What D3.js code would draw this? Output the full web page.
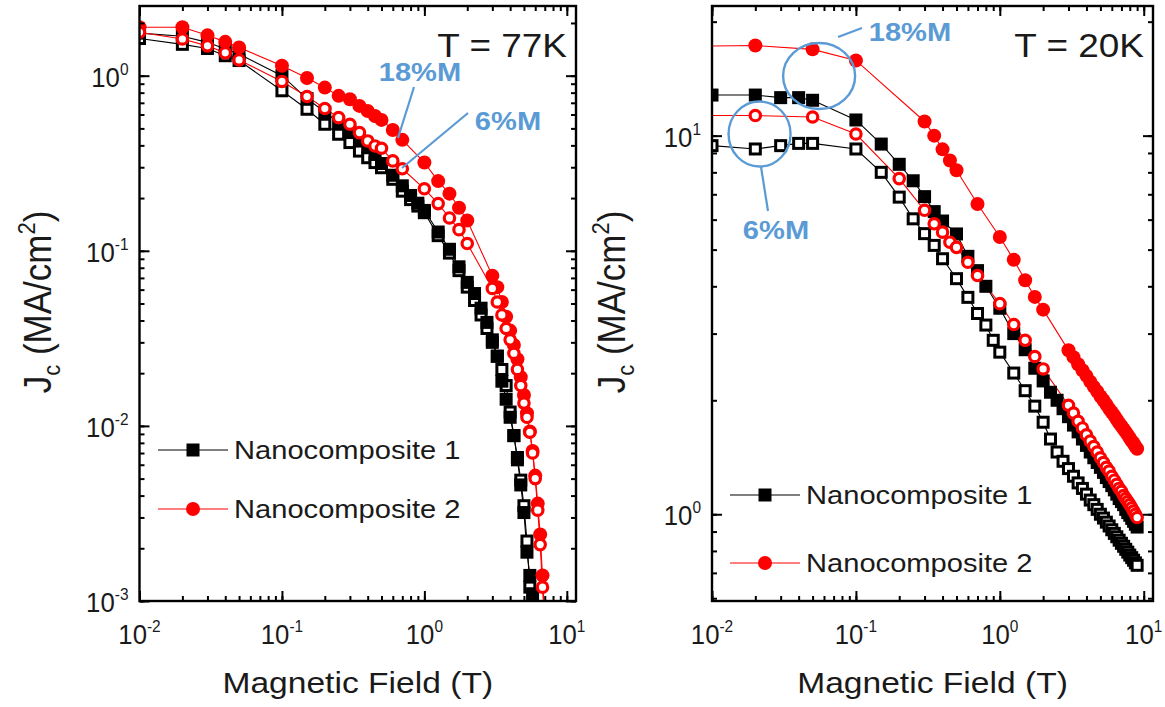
<!DOCTYPE html>
<html><head><meta charset="utf-8">
<script src="https://cdn.jsdelivr.net/npm/d3@7"></script>
<style>body{margin:0;background:#fff}text{font-family:"Liberation Sans",Arial,sans-serif;fill:#1a1a1a}</style>
</head><body><svg id="c" width="1165" height="707"></svg>
<script>
// ---------- tick labels ----------
const xTickExps = [-2, -1, 0, 1];
const yTickExpsLeft = [-3, -2, -1, 0];
const yTickExpsRight = [0, 1];
const legendLabels = ["Nanocomposite 1", "Nanocomposite 2"];

// ---------- T = 77K panel ----------
const L_N1_18_x = [0.01,0.02,0.03,0.04,0.05,0.1,0.15,0.2,0.25,0.3,0.35,0.4,0.45,0.5,0.6,0.7,0.8,0.9,1.0,1.25,1.5,1.75,2.0,2.25,2.5,2.75,3.0,3.25,3.5,3.75,4.0,4.25,4.5,4.75,5.0,5.25,5.5,5.75,6.0];
const L_N1_18_y = [1.75,1.68,1.55,1.42,1.33,1.0,0.74,0.62,0.54,0.48,0.43,0.39,0.355,0.315,0.27,0.235,0.207,0.187,0.17,0.128,0.102,0.081,0.066,0.057,0.047,0.039,0.031,0.025,0.018,0.0142,0.0112,0.0088,0.0064,0.0046,0.0032,0.0019,0.0014,0.0011,0.0007];
const L_N1_6_x = [0.01,0.02,0.03,0.04,0.05,0.1,0.15,0.2,0.25,0.3,0.35,0.4,0.45,0.5,0.6,0.7,0.8,0.9,1.0,1.25,1.5,1.75,2.0,2.25,2.5,2.75,3.0,3.25,3.5,3.75,4.0,4.25,4.5,4.75,5.0,5.25,5.5,5.75];
const L_N1_6_y = [1.63,1.51,1.43,1.30,1.22,0.82,0.643,0.528,0.463,0.415,0.371,0.34,0.319,0.298,0.256,0.219,0.196,0.18,0.165,0.122,0.097,0.077,0.062,0.052,0.043,0.036,0.030,0.025,0.021,0.017,0.012,0.0088,0.0066,0.0049,0.0035,0.0022,0.0012,0.0008];
const L_N2_18_x = [0.01,0.02,0.03,0.04,0.05,0.1,0.15,0.2,0.25,0.3,0.35,0.4,0.45,0.5,0.6,0.7,1.0,1.25,1.5,1.75,2.0,3.0,3.25,3.5,3.75,4.0,4.25,4.5,4.75,5.0,5.25,5.5,5.75,6.0,6.25,6.5,6.75,7.0];
const L_N2_18_y = [1.89,1.89,1.70,1.56,1.45,1.14,0.97,0.855,0.767,0.734,0.672,0.629,0.589,0.559,0.49,0.43,0.319,0.25,0.212,0.176,0.149,0.072,0.062,0.051,0.042,0.035,0.029,0.024,0.019,0.015,0.0118,0.0093,0.0072,0.0052,0.0036,0.0024,0.0014,0.0008];
const L_N2_6_x = [0.01,0.02,0.03,0.04,0.05,0.1,0.15,0.2,0.25,0.3,0.35,0.4,0.45,0.5,0.6,0.7,1.0,1.25,1.5,1.75,2.0,3.0,3.25,3.5,3.75,4.0,4.25,4.5,4.75,5.0,5.25,5.5,5.75,6.0,6.25,6.5,6.75,7.0];
const L_N2_6_y = [1.77,1.62,1.48,1.35,1.23,0.927,0.76,0.649,0.576,0.528,0.473,0.424,0.397,0.385,0.326,0.294,0.226,0.186,0.154,0.132,0.11,0.061,0.051,0.043,0.036,0.031,0.026,0.021,0.017,0.0135,0.0112,0.0092,0.0070,0.0050,0.0033,0.0021,0.0012,0.0007];

// ---------- T = 20K panel ----------
const R_N1_18_x = [0.01,0.02,0.03,0.04,0.05,0.1,0.15,0.2,0.25,0.3,0.35,0.4,0.5,0.6,0.7,0.8,1.0,1.25,1.5,1.75,2.0,2.25,2.5,2.75,3.0,3.25,3.5,3.75,4.0,4.25,4.5,4.75,5.0,5.25,5.5,5.75,6.0,6.25,6.5,6.75,7.0,7.25,7.5,7.75,8.0,8.25,8.5,8.75,9.0];
const R_N1_18_y = [12.8,12.8,12.6,12.6,12.4,11.0,9.5,8.4,7.6,6.9,6.3,5.95,5.5,4.8,4.4,4.0,3.5,3.0,2.72,2.43,2.25,2.10,2.00,1.90,1.81,1.72,1.65,1.58,1.52,1.46,1.41,1.37,1.33,1.29,1.25,1.22,1.19,1.16,1.13,1.10,1.08,1.06,1.03,1.01,0.994,0.975,0.958,0.941,0.925];
const R_N1_6_x = [0.01,0.02,0.03,0.04,0.05,0.1,0.15,0.2,0.25,0.3,0.35,0.4,0.5,0.6,0.7,0.8,0.9,1.0,1.25,1.5,1.75,2.0,2.25,2.5,2.75,3.0,3.25,3.5,3.75,4.0,4.25,4.5,4.75,5.0,5.25,5.5,5.75,6.0,6.25,6.5,6.75,7.0,7.25,7.5,7.75,8.0,8.25,8.5,8.75,9.0];
const R_N1_6_y = [9.41,9.22,9.41,9.54,9.54,9.22,8.0,6.88,6.03,5.51,5.13,4.73,4.19,3.74,3.39,3.16,2.88,2.68,2.36,2.12,1.93,1.75,1.58,1.46,1.38,1.32,1.26,1.21,1.17,1.13,1.09,1.06,1.03,1.00,0.977,0.953,0.931,0.910,0.890,0.872,0.854,0.838,0.823,0.808,0.794,0.780,0.768,0.756,0.744,0.733];
const R_N2_18_x = [0.005,0.02,0.05,0.1,0.3,0.35,0.4,0.45,0.5,0.7,1.0,1.25,1.5,1.75,2.0,3.0,3.25,3.5,3.75,4.0,4.25,4.5,4.75,5.0,5.25,5.5,5.75,6.0,6.25,6.5,6.75,7.0,7.25,7.5,7.75,8.0,8.25,8.5,8.75,9.0];
const R_N2_18_y = [17.2,17.3,16.9,15.8,10.9,10.0,9.2,8.6,8.1,6.6,5.4,4.7,4.15,3.75,3.47,2.71,2.60,2.49,2.40,2.32,2.24,2.17,2.11,2.05,2.00,1.95,1.90,1.86,1.82,1.78,1.74,1.71,1.68,1.65,1.62,1.59,1.56,1.54,1.51,1.49];
const R_N2_6_x = [0.005,0.02,0.05,0.1,0.2,0.3,0.35,0.4,0.45,0.5,0.6,0.7,1.0,1.25,1.5,1.75,2.0,3.0,3.25,3.5,3.75,4.0,4.25,4.5,4.75,5.0,5.25,5.5,5.75,6.0,6.25,6.5,6.75,7.0,7.25,7.5,7.75,8.0,8.25,8.5,8.75,9.0];
const R_N2_6_y = [11.3,11.3,11.2,10.1,7.7,6.35,5.85,5.56,5.23,5.07,4.63,4.27,3.6,3.17,2.88,2.61,2.42,1.94,1.85,1.76,1.69,1.62,1.56,1.51,1.46,1.41,1.37,1.33,1.30,1.26,1.23,1.20,1.17,1.15,1.12,1.10,1.08,1.06,1.04,1.02,1.00,0.98];

// ---------- styling ----------
const SX = 1.12;
const BLUE = "#5B9BD5";
const svg = d3.select("#c");

function stretchedText(g, x, y, anchor, size, weight, fill, sx) {
  return g.append("text")
    .attr("transform", `translate(${x},${y}) scale(${sx || SX},1)`)
    .attr("text-anchor", anchor)
    .style("font-size", size + "px")
    .style("font-weight", weight || "normal")
    .style("fill", fill || "#1a1a1a");
}
function powLabel(g, x, y, anchor, exp, size) {
  const t = stretchedText(g, x, y, anchor, size, "normal", "#1a1a1a", 0.92);
  t.append("tspan").text("10");
  t.append("tspan").attr("dy", -size * 0.42).style("font-size", (size * 0.6) + "px").text(exp < 0 ? "-" + (-exp) : String(exp));
  return t;
}

function drawMarker(g, kind, x, y) {
  if (kind === "sqF") g.append("rect").attr("x", x - 6.5).attr("y", y - 6.5).attr("width", 13).attr("height", 13).attr("fill", "#000");
  else if (kind === "sqO") g.append("rect").attr("x", x - 5).attr("y", y - 5).attr("width", 10).attr("height", 10).attr("fill", "#fff").attr("stroke", "#000").attr("stroke-width", 3);
  else if (kind === "ciF") g.append("circle").attr("cx", x).attr("cy", y).attr("r", 7).attr("fill", "#ff0000");
  else g.append("circle").attr("cx", x).attr("cy", y).attr("r", 5.2).attr("fill", "#fff").attr("stroke", "#ff0000").attr("stroke-width", 3.2);
}

function panel(opt) {
  const x = d3.scaleLog().domain([0.01, 11.6]).range([opt.x0, opt.x1]);
  const y = d3.scaleLog().domain(opt.ydom).range([601, 6]);
  const g = svg.append("g");
  const id = "clip" + opt.name;
  svg.append("defs").append("clipPath").attr("id", id).append("rect")
    .attr("x", opt.x0).attr("y", 6).attr("width", opt.x1 - opt.x0).attr("height", 595);
  const dg = g.append("g").attr("clip-path", `url(#${id})`);
  const line = d3.line().x(d => x(d[0])).y(d => y(d[1]));
  opt.series.forEach(s => {
    const pts = s.xs.map((v, i) => [v, s.ys[i]]);
    dg.append("path").datum(pts).attr("d", line).attr("fill", "none").attr("stroke", s.color).attr("stroke-width", 1.1);
  });
  opt.drawOrder.forEach(k => {
    const s = opt.series[k];
    s.xs.forEach((v, i) => drawMarker(dg, s.kind, x(v), y(s.ys[i])));
  });

  // axes (all four sides, ticks inward)
  const ax = g.append("g");
  const xMajor = xTickExps.map(e => Math.pow(10, e));
  ax.append("g").attr("transform", "translate(0,601)").call(d3.axisBottom(x).tickValues(x.ticks()).tickSize(-5).tickFormat(""));
  ax.append("g").attr("transform", "translate(0,601)").call(d3.axisBottom(x).tickValues(xMajor).tickSize(-10).tickFormat(""));
  ax.append("g").attr("transform", "translate(0,6)").call(d3.axisTop(x).tickValues(x.ticks()).tickSize(-5).tickFormat(""));
  ax.append("g").attr("transform", "translate(0,6)").call(d3.axisTop(x).tickValues(xMajor).tickSize(-10).tickFormat(""));
  const yMinor = y.ticks().filter(v => v >= opt.ydom[0] && v <= opt.ydom[1]);
  const yMajor = opt.yExps.map(e => Math.pow(10, e));
  ax.append("g").attr("transform", `translate(${opt.x0},0)`).call(d3.axisLeft(y).tickValues(yMinor).tickSize(-5).tickFormat(""));
  ax.append("g").attr("transform", `translate(${opt.x0},0)`).call(d3.axisLeft(y).tickValues(yMajor).tickSize(-10).tickFormat(""));
  ax.append("g").attr("transform", `translate(${opt.x1},0)`).call(d3.axisRight(y).tickValues(yMinor).tickSize(-5).tickFormat(""));
  ax.append("g").attr("transform", `translate(${opt.x1},0)`).call(d3.axisRight(y).tickValues(yMajor).tickSize(-10).tickFormat(""));
  ax.selectAll(".domain").remove();
  ax.selectAll(".tick line").attr("stroke", "#000").attr("stroke-width", 2);
  g.append("rect").attr("x", opt.x0).attr("y", 6).attr("width", opt.x1 - opt.x0).attr("height", 595)
    .attr("fill", "none").attr("stroke", "#000").attr("stroke-width", 2.4);

  // tick labels
  xTickExps.forEach(e => powLabel(g, x(Math.pow(10, e)), 644, "middle", e, 28));
  opt.yExps.forEach(e => powLabel(g, opt.x0 - 11, y(Math.pow(10, e)) + 11, "end", e, 28));

  // axis titles
  stretchedText(g, (opt.x0 + opt.x1) / 2, 693, "middle", 30).text("Magnetic Field (T)");
  const yt = g.append("text")
    .attr("transform", `translate(${opt.ytx},${opt.yty}) scale(${SX},1) rotate(-90)`)
    .attr("text-anchor", "middle").style("font-size", "35px");
  yt.append("tspan").text("J");
  yt.append("tspan").attr("dy", 8).style("font-size", "22px").text("c");
  yt.append("tspan").attr("dy", -8).text(" (MA/cm");
  yt.append("tspan").attr("dy", -14).style("font-size", "22px").text("2");
  yt.append("tspan").attr("dy", 14).text(")");

  // temperature
  stretchedText(g, opt.x1 - 9, 57, "end", 33).text(opt.temp);

  // legend
  opt.legend.forEach((L, i) => {
    const s = opt.series[L.idx];
    g.append("line").attr("x1", L.lx0).attr("x2", L.lx1).attr("y1", L.ly).attr("y2", L.ly).attr("stroke", s.color).attr("stroke-width", 1.1);
    drawMarker(g, s.kind, (L.lx0 + L.lx1) / 2, L.ly);
    stretchedText(g, L.tx, L.ly + 9, "start", 26).text(legendLabels[i]);
  });
  return {x, y, g};
}

const left = panel({
  name: "L", x0: 139.5, x1: 576, ydom: [0.001, 2.5], yExps: yTickExpsLeft, ytx: 51, yty: 302, temp: "T = 77K",
  series: [
    {xs: L_N1_18_x, ys: L_N1_18_y, kind: "sqF", color: "#000"},
    {xs: L_N1_6_x, ys: L_N1_6_y, kind: "sqO", color: "#000"},
    {xs: L_N2_18_x, ys: L_N2_18_y, kind: "ciF", color: "#ff0000"},
    {xs: L_N2_6_x, ys: L_N2_6_y, kind: "ciO", color: "#ff0000"}
  ],
  drawOrder: [1, 0, 2, 3],
  legend: [{idx: 0, lx0: 158, lx1: 228, ly: 450, tx: 234}, {idx: 2, lx0: 158, lx1: 228, ly: 509, tx: 234}]
});
const right = panel({
  name: "R", x0: 712, x1: 1153, ydom: [0.59, 22], yExps: yTickExpsRight, ytx: 625, yty: 302, temp: "T = 20K",
  series: [
    {xs: R_N1_18_x, ys: R_N1_18_y, kind: "sqF", color: "#000"},
    {xs: R_N1_6_x, ys: R_N1_6_y, kind: "sqO", color: "#000"},
    {xs: R_N2_18_x, ys: R_N2_18_y, kind: "ciF", color: "#ff0000"},
    {xs: R_N2_6_x, ys: R_N2_6_y, kind: "ciO", color: "#ff0000"}
  ],
  drawOrder: [1, 0, 2, 3],
  legend: [{idx: 0, lx0: 730, lx1: 800, ly: 495, tx: 806}, {idx: 2, lx0: 730, lx1: 800, ly: 563, tx: 806}]
});

// ---------- annotations ----------
const ag = svg.append("g");
function ann(txt, x, y) { return stretchedText(ag, x, y, "middle", 26, "bold", BLUE).text(txt); }
function ellipse(cx, cy, rx, ry) {
  ag.append("ellipse").attr("cx", cx).attr("cy", cy).attr("rx", rx).attr("ry", ry)
    .attr("fill", "none").attr("stroke", BLUE).attr("stroke-width", 2.4);
}
function bl(x1, y1, x2, y2) {
  ag.append("line").attr("x1", x1).attr("y1", y1).attr("x2", x2).attr("y2", y2).attr("stroke", BLUE).attr("stroke-width", 2.2);
}
// left panel
ann("18%M", 420, 81);
bl(414, 87, 398, 138);
ann("6%M", 508, 130);
bl(468, 113, 402, 168);
// right panel
ellipse(right.x(0.0555), right.y(14.37), 36, 33);
bl(838, 37, 862, 28);
ann("18%M", 910, 41);
ellipse(right.x(0.0214), right.y(10.1), 31, 32.5);
bl(761, 167, 768, 211);
ann("6%M", 776, 239);
</script></body></html>
